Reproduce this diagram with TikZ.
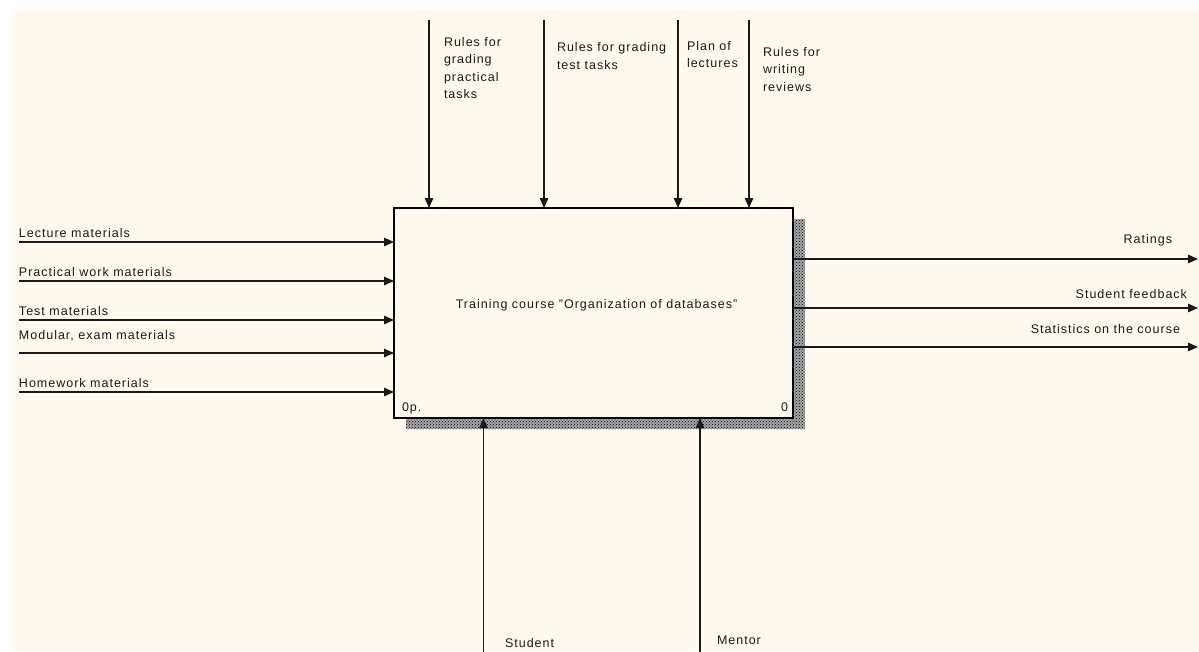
\documentclass[tikz,border=0pt]{standalone}
\usepackage{fontspec}
\setmainfont[LetterSpace=8]{Liberation Sans}
\usetikzlibrary{arrows.meta,patterns}
\definecolor{paper}{RGB}{255,250,238}
\tikzset{
  flow/.style={line width=1.2pt,draw=black!90,-{Triangle[length=10pt,width=8.5pt]}},
  lbl/.style={inner sep=0pt,outer sep=0pt,anchor=base west,font=\fontsize{12.5}{17.6}\selectfont,align=left,text=black!90},
  toplbl/.style={lbl,anchor=north west},
  rlbl/.style={lbl,anchor=base east,align=right},
  actbox/.style={draw,line width=2.2pt,fill=paper,minimum width=399pt,minimum height=210pt,inner sep=0pt,outer sep=0pt},
  shade/.style={pattern=crosshatch dots,pattern color=black}
}
\begin{document}
\begin{tikzpicture}[x=1pt,y=-1pt]
\useasboundingbox (0,0) rectangle (1199,651);
\fill[white] (0,0) rectangle (1199,651);
\fill[paper] (12,10) rectangle (1199,651);

% shadow behind the activity box
\fill[black!35] (406,219) rectangle (805,429);
\fill[shade] (406,219) rectangle (805,429);

% activity box
\node[actbox] (act) at (593.5,313) {};
\node[lbl,anchor=base] (title) at (596.5,308) {Training course "Organization of databases"};
\node[lbl] (num) at (402,411) {0p.};
\node[rlbl] (idx) at (788,411) {0};

% controls
\coordinate (c1) at (429,20);
\coordinate (c2) at (544,20);
\coordinate (c3) at (678,20);
\coordinate (c4) at (749,20);
\foreach \c in {c1,c2,c3,c4} \draw[flow] (\c) -- (\c |- act.north);
\node[toplbl] (lc1) at (444,37) {Rules for\\grading\\practical\\tasks};
\node[toplbl] (lc2) at (557,42.5) {Rules for grading\\test tasks};
\node[toplbl] (lc3) at (687,41) {Plan of\\lectures};
\node[toplbl] (lc4) at (763,47) {Rules for\\writing\\reviews};

% inputs
\coordinate (i1) at (19,242);
\coordinate (i2) at (19,281);
\coordinate (i3) at (19,320);
\coordinate (i4) at (19,353);
\coordinate (i5) at (19,392);
\foreach \i in {i1,i2,i3,i4,i5} \draw[flow] (\i) -- (\i -| act.west);
\node[lbl] (li1) at (19,237) {Lecture materials};
\node[lbl] (li2) at (19,276) {Practical work materials};
\node[lbl] (li3) at (19,315) {Test materials};
\node[lbl] (li4) at (19,339) {Modular, exam materials};
\node[lbl] (li5) at (19,387) {Homework materials};

% outputs
\coordinate (o1) at (1198,259);
\coordinate (o2) at (1198,308);
\coordinate (o3) at (1198,347);
\foreach \o in {o1,o2,o3} \draw[flow] (\o -| act.east) -- (\o);
\node[rlbl] (lo1) at (1172,243) {Ratings};
\node[rlbl] (lo2) at (1187,298) {Student feedback};
\node[rlbl] (lo3) at (1180,333) {Statistics on the course};

% mechanisms
\coordinate (m1) at (483.5,652);
\coordinate (m2) at (700,652);
\foreach \m in {m1,m2} \draw[flow] (\m) -- (\m |- act.south);
\node[lbl] (lm1) at (505,647) {Student};
\node[lbl] (lm2) at (717,644) {Mentor};
\end{tikzpicture}
\end{document}
